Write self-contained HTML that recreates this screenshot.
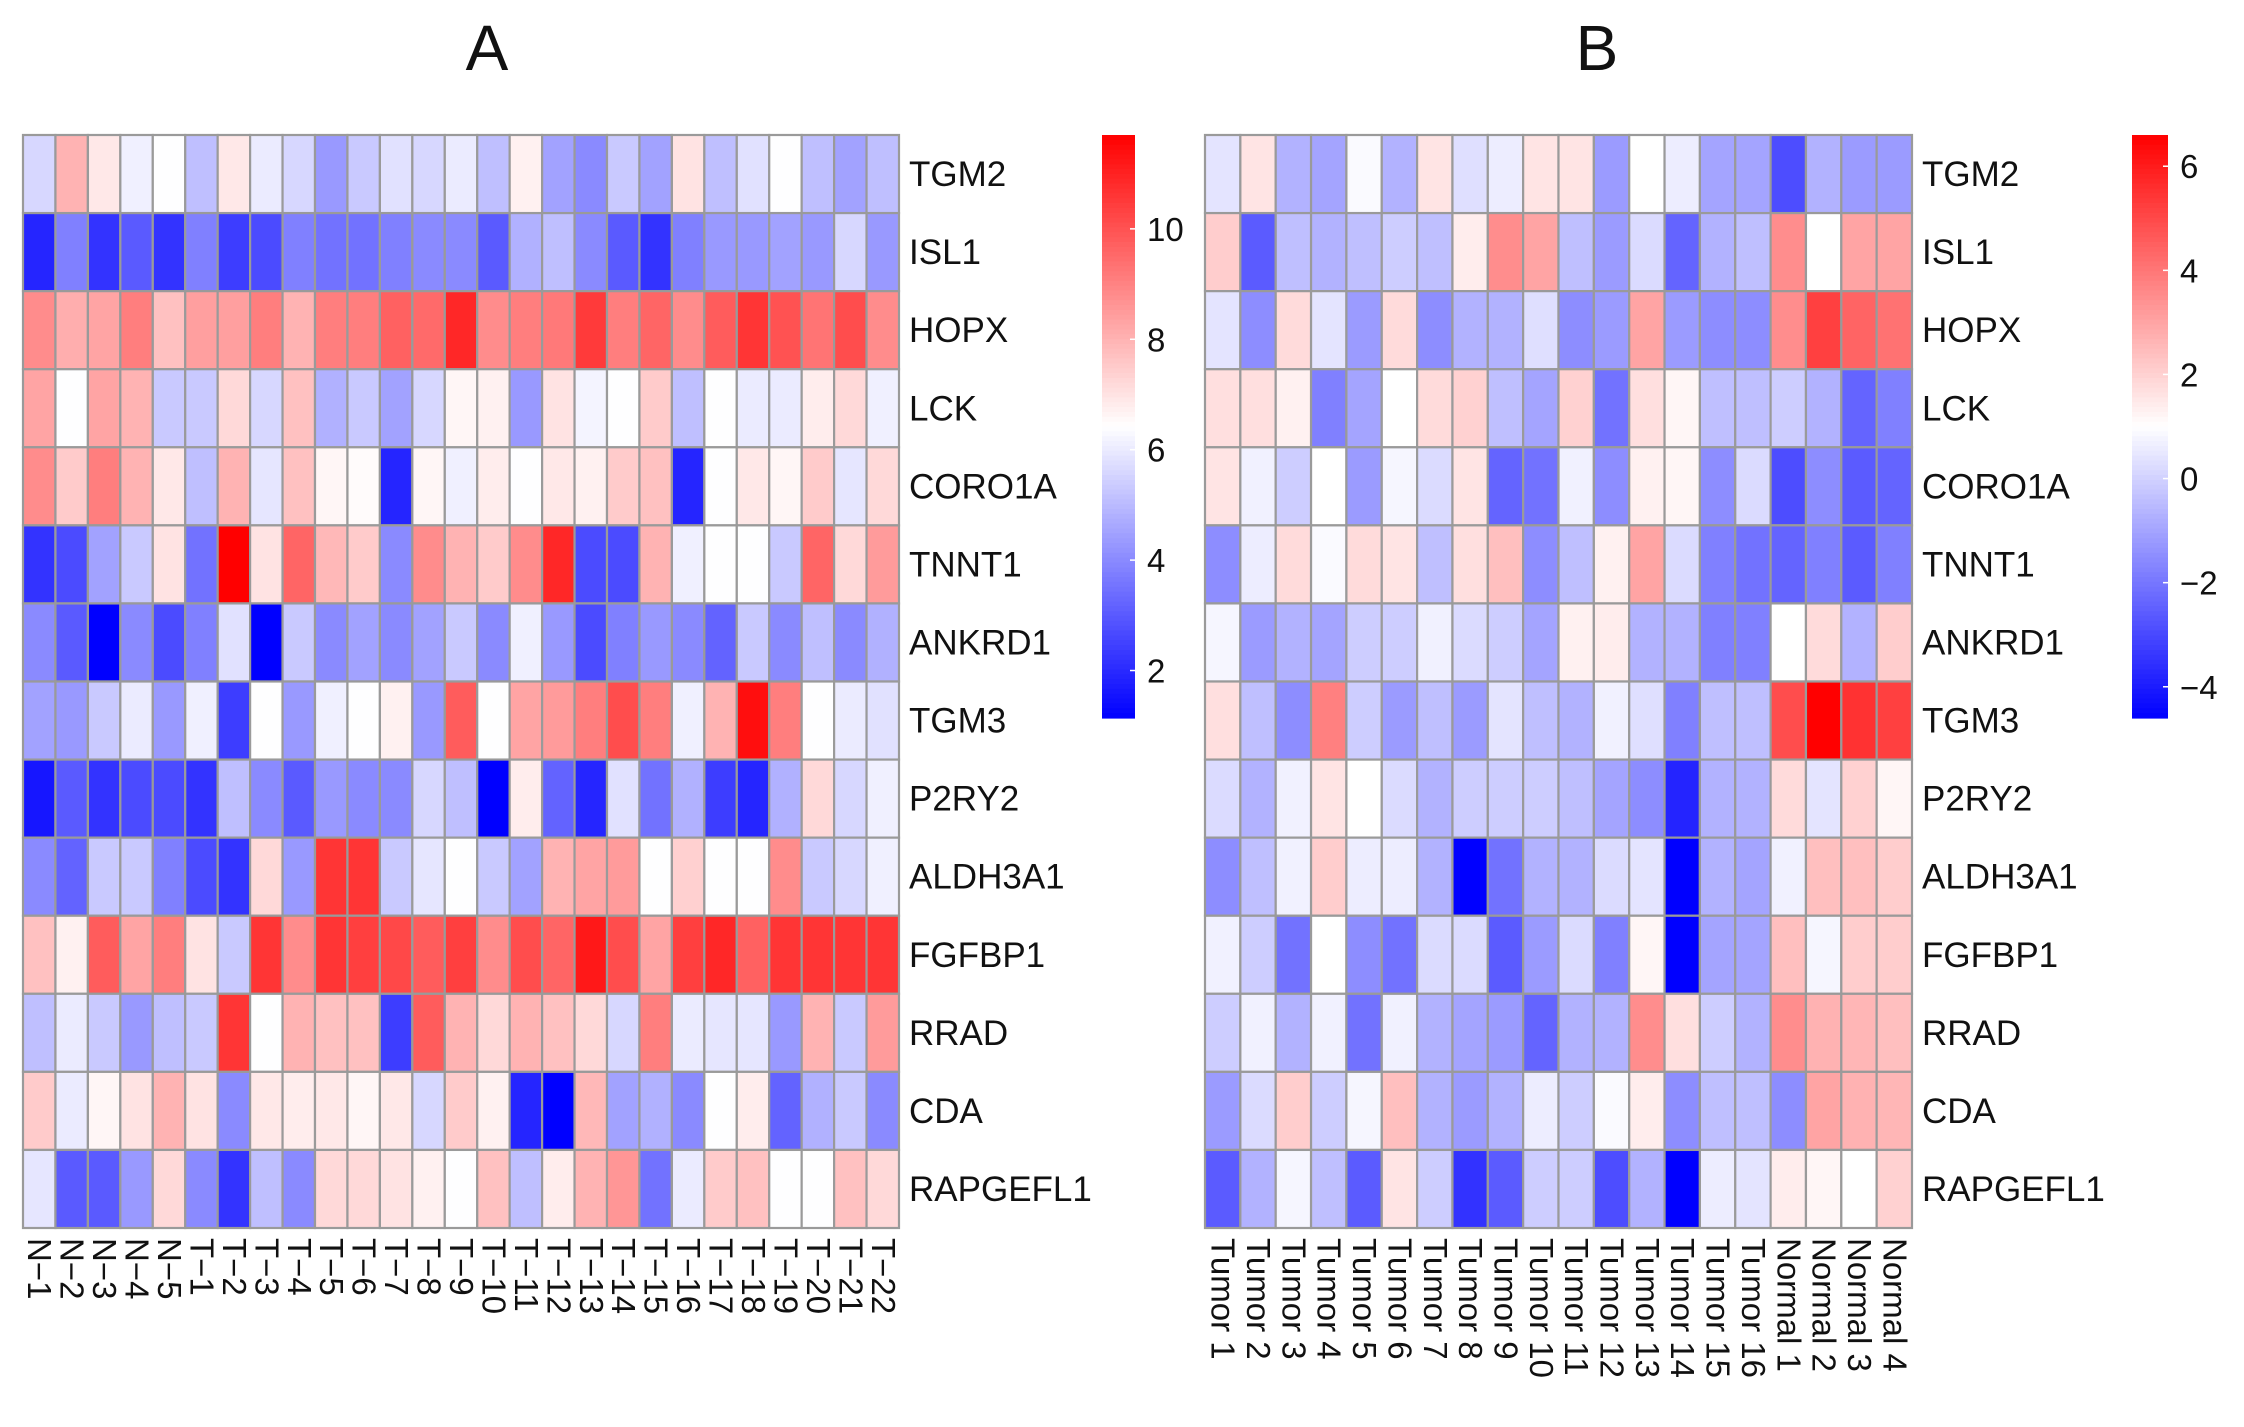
<!DOCTYPE html>
<html><head><meta charset="utf-8"><style>
html,body{margin:0;padding:0;background:#fff;}
svg text{font-family:"Liberation Sans",Arial,sans-serif;fill:#111;}
</style></head><body>
<svg id="svg" width="2244" height="1422" viewBox="0 0 2244 1422" xmlns="http://www.w3.org/2000/svg">
<text x="487" y="70" font-size="64" text-anchor="middle">A</text>
<text x="1597" y="70" font-size="64" text-anchor="middle">B</text>
</svg>
<script>
const genes=["TGM2","ISL1","HOPX","LCK","CORO1A","TNNT1","ANKRD1","TGM3","P2RY2","ALDH3A1","FGFBP1","RRAD","CDA","RAPGEFL1"];
const samplesA=["N−1","N−2","N−3","N−4","N−5","T−1","T−2","T−3","T−4","T−5","T−6","T−7","T−8","T−9","T−10","T−11","T−12","T−13","T−14","T−15","T−16","T−17","T−18","T−19","T−20","T−21","T−22"];
const samplesB=["Tumor 1","Tumor 2","Tumor 3","Tumor 4","Tumor 5","Tumor 6","Tumor 7","Tumor 8","Tumor 9","Tumor 10","Tumor 11","Tumor 12","Tumor 13","Tumor 14","Tumor 15","Tumor 16","Normal 1","Normal 2","Normal 3","Normal 4"];
const valuesA=[
[5.6,8.0,6.9,6.1,6.4,5.1,6.9,6.0,5.6,4.3,5.3,5.8,5.6,6.0,5.1,6.7,4.5,4.0,5.3,4.5,7.0,5.1,5.8,6.4,5.1,4.5,5.1],
[1.9,3.8,2.2,3.0,2.2,3.8,2.4,2.7,3.8,3.5,3.5,3.8,4.0,4.0,3.0,4.8,5.1,4.0,3.0,2.2,3.8,4.3,4.3,4.5,4.3,5.6,4.3],
[8.8,8.1,8.3,9.1,7.7,8.4,8.4,9.1,8.0,9.1,9.1,9.7,9.5,10.9,8.8,9.1,9.2,10.5,9.1,9.6,8.8,9.8,10.6,10.0,9.3,10.1,8.8],
[8.3,6.4,8.3,8.0,5.3,5.3,7.2,5.6,7.7,4.8,5.3,4.5,5.6,6.6,6.7,4.3,7.0,6.2,6.4,7.5,5.1,6.4,6.0,6.0,6.8,7.2,6.1],
[8.8,7.5,9.1,8.0,6.9,5.1,8.0,5.9,7.7,6.6,6.5,1.9,6.6,6.1,6.8,6.4,6.9,6.7,7.5,7.7,1.9,6.4,6.9,6.6,7.5,5.9,7.2],
[2.2,2.7,4.5,5.3,7.0,3.5,11.7,7.0,9.6,7.9,7.5,4.0,8.8,8.0,7.5,8.8,10.9,2.7,2.7,8.0,6.1,6.4,6.4,5.3,9.6,7.2,8.5],
[4.0,3.0,1.1,4.0,2.7,3.8,5.8,1.1,5.3,4.0,4.5,4.0,4.5,5.3,4.0,6.1,4.3,2.7,3.8,4.3,4.0,3.2,5.3,4.0,5.1,4.0,4.8],
[4.5,4.3,5.3,6.0,4.3,6.1,2.4,6.4,4.3,6.1,6.4,6.7,4.3,9.8,6.4,8.3,8.5,9.1,10.1,9.1,6.1,8.0,11.4,9.1,6.4,6.0,5.8],
[1.6,3.0,2.2,2.7,2.7,2.2,5.1,4.0,3.0,4.3,4.0,4.0,5.6,5.1,1.1,6.8,3.2,1.9,5.8,3.5,4.8,2.4,1.9,4.8,7.2,5.6,6.1],
[4.0,3.2,5.3,5.3,3.8,2.7,2.2,7.2,4.3,10.6,10.6,5.3,5.9,6.4,5.3,4.5,8.0,8.3,8.5,6.4,7.4,6.4,6.4,8.8,5.3,5.6,6.1],
[7.7,6.7,9.8,8.3,9.1,7.0,5.3,10.6,8.8,10.6,10.4,10.2,9.8,10.4,8.8,10.1,9.6,11.2,10.1,8.3,10.4,10.9,9.7,10.6,10.6,10.6,10.6],
[5.1,6.0,5.3,4.3,5.1,5.3,10.6,6.4,8.0,7.7,7.7,2.4,9.8,8.0,7.2,8.0,7.7,7.2,5.6,9.1,6.0,5.9,5.9,4.3,8.0,5.3,8.5],
[7.5,6.0,6.6,7.0,8.0,7.0,4.0,6.9,6.8,6.9,6.6,6.9,5.6,7.5,6.7,1.9,1.1,7.9,4.5,4.8,4.0,6.4,6.8,3.2,4.8,5.3,4.0],
[5.9,3.0,3.0,4.3,7.2,4.0,2.2,5.1,4.0,7.2,7.2,7.0,6.7,6.4,7.7,5.1,6.8,8.0,8.6,3.5,6.0,7.5,7.7,6.4,6.4,7.7,7.2]];
const valuesB=[
[0.4,1.6,-0.7,-1.0,0.9,-0.7,1.6,0.3,0.6,1.6,1.6,-1.2,1.0,0.6,-1.0,-1.0,-2.9,-0.7,-1.2,-1.2],
[2.1,-2.6,-0.4,-0.7,-0.4,-0.1,-0.4,1.4,3.5,3.0,-0.4,-1.2,0.2,-2.4,-0.7,-0.4,3.5,1.0,3.0,3.0],
[0.4,-1.5,1.8,0.4,-1.2,1.8,-1.5,-0.7,-0.7,0.3,-1.5,-1.2,3.0,-1.2,-1.5,-1.5,3.5,5.2,4.4,4.1],
[1.7,1.7,1.3,-1.8,-1.0,1.0,1.8,2.0,-0.4,-1.0,2.0,-2.1,1.7,1.2,-0.4,-0.4,-0.1,-0.7,-2.4,-1.8],
[1.6,0.7,-0.1,1.0,-1.2,0.8,0.2,1.6,-2.4,-2.1,0.7,-1.5,1.3,1.2,-1.5,0.2,-2.9,-1.5,-2.6,-2.4],
[-1.5,0.6,1.8,0.9,1.8,1.6,-0.4,1.7,2.4,-1.5,-0.4,1.3,3.0,0.2,-1.8,-2.1,-2.4,-1.8,-2.6,-1.8],
[0.8,-1.2,-0.7,-1.0,-0.1,-0.1,0.7,0.2,-0.1,-1.0,1.3,1.4,-0.7,-0.7,-1.8,-1.8,1.0,1.8,-0.7,2.1],
[1.7,-0.4,-1.5,3.8,-0.1,-1.2,-0.4,-1.2,0.4,-0.4,-0.7,0.7,0.3,-1.8,-0.4,-0.4,4.9,6.6,5.5,5.2],
[0.2,-0.7,0.7,1.6,1.0,0.2,-0.7,-0.1,-0.1,-0.1,-0.4,-1.0,-1.5,-3.8,-0.7,-0.7,1.8,0.4,2.0,1.2],
[-1.5,-0.4,0.7,2.1,0.6,0.6,-0.7,-4.6,-2.1,-0.7,-0.7,0.2,0.4,-4.6,-0.7,-1.0,0.7,2.4,2.4,2.1],
[0.7,-0.1,-2.1,1.0,-1.5,-2.1,0.2,0.2,-2.6,-1.2,0.2,-1.8,1.2,-4.6,-1.0,-1.0,2.4,0.8,2.1,2.1],
[-0.1,0.7,-0.7,0.7,-2.1,0.7,-0.7,-1.0,-1.2,-2.4,-0.7,-0.7,3.5,1.7,-0.1,-0.7,3.5,2.7,2.6,2.4],
[-1.2,0.2,2.1,-0.1,0.8,2.4,-0.7,-1.2,-0.7,0.6,-0.1,0.9,1.4,-1.5,-0.4,-0.4,-1.5,3.0,2.7,2.6],
[-2.6,-0.7,0.8,-0.4,-2.6,1.6,-0.1,-3.5,-2.6,-0.1,-0.1,-2.9,-0.7,-4.6,0.6,0.4,1.4,1.2,1.0,2.0]];
const ticksA=[2,4,6,8,10];
const ticksB=[-4,-2,0,2,4,6];
const NS="http://www.w3.org/2000/svg";
const svg=document.getElementById('svg');
function mk(tag,attrs,parent){const e=document.createElementNS(NS,tag);for(const k in attrs)e.setAttribute(k,attrs[k]);(parent||svg).appendChild(e);return e;}
function colorFor(v,lo,hi){let t=(v-lo)/(hi-lo);t=Math.max(0,Math.min(1,t));let r,g,b;
 if(t<0.5){const s=t/0.5;r=Math.round(255*s);g=r;b=255;}else{const s=(t-0.5)/0.5;r=255;g=Math.round(255*(1-s));b=g;}
 return `rgb(${r},${g},${b})`;}
function panel(cfg){
 const {x0,y0,x1,y1,vals,cols,lo,hi,ticks,cbx,cbw,cby0,cby1,id}=cfg;
 const nr=genes.length,nc=cols.length,cw=(x1-x0)/nc,rh=(y1-y0)/nr;
 const g=mk('g',{});
 
 
 for(let r=0;r<nr;r++)for(let c=0;c<nc;c++){
  const rc=mk('rect',{x:x0+c*cw,y:y0+r*rh,width:cw,height:rh,fill:colorFor(vals[r][c],lo,hi),stroke:'#9a9a9a','stroke-width':2.2},g);
  
  
 }
 genes.forEach((gn,r)=>{const t=mk('text',{x:x1+10,y:y0+(r+0.5)*rh+12,'font-size':35},g);t.textContent=gn;
  
  });
 cols.forEach((s,c)=>{const cx=x0+(c+0.5)*cw;const t=mk('text',{x:0,y:0,'font-size':33,transform:`translate(${cx-11},${y1+10}) rotate(90)`},g);t.textContent=s;
  
  });
 // colorbar
 const cb=mk('g',{});
 
 
 const steps=120;const h=(cby1-cby0)/steps;
 for(let i=0;i<steps;i++){const v=hi-(i+0.5)/steps*(hi-lo);mk('rect',{x:cbx,y:cby0+i*h,width:cbw,height:h+0.6,fill:colorFor(v,lo,hi)},cb);}
 const yOf=v=>cby0+(hi-v)/(hi-lo)*(cby1-cby0);
 ticks.forEach(tv=>{const y=yOf(tv);mk('line',{x1:cbx+cbw-5,x2:cbx+cbw,y1:y,y2:y,stroke:'#fff','stroke-width':1.5},cb);
  const t=mk('text',{x:cbx+cbw+12,y:y+12,'font-size':33},cb);t.textContent=String(tv).replace('-','−');
  
  });
}
panel({id:'panel-a',x0:23,y0:135,x1:899,y1:1228,vals:valuesA,cols:samplesA,lo:1.14,hi:11.7,ticks:ticksA,cbx:1102,cbw:33,cby0:135,cby1:718});
panel({id:'panel-b',x0:1205,y0:135,x1:1912,y1:1228,vals:valuesB,cols:samplesB,lo:-4.6,hi:6.6,ticks:ticksB,cbx:2132,cbw:36,cby0:135,cby1:718});
</script>
</body></html>
